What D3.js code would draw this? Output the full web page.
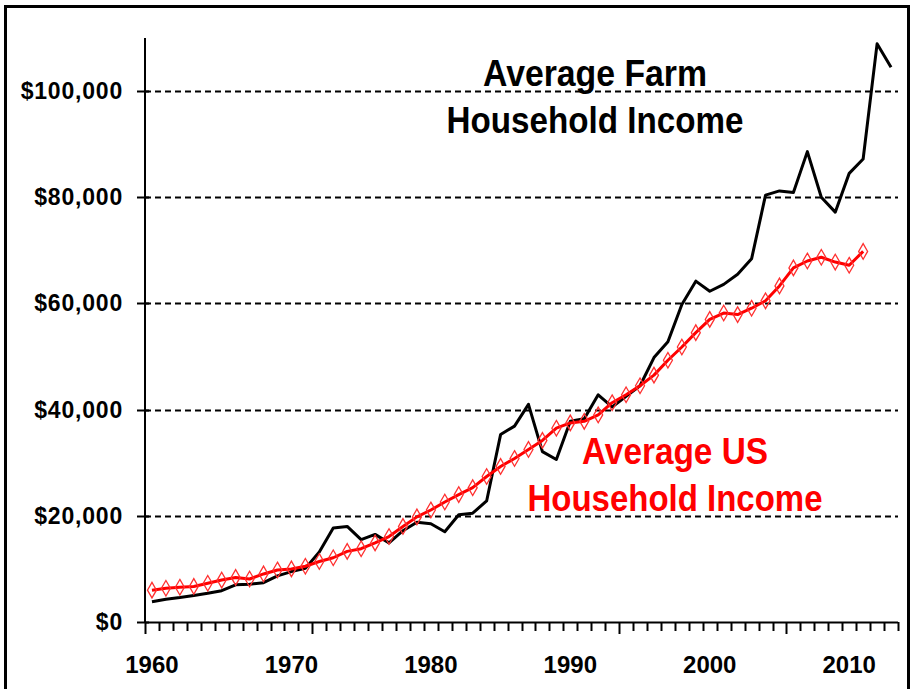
<!DOCTYPE html>
<html>
<head>
<meta charset="utf-8">
<script src="https://cdn.jsdelivr.net/npm/d3@7"></script>
<style>
  body { margin: 0; background: #fff; }
  text { font-family: Arial, 'Liberation Sans', sans-serif; font-weight: bold; }
</style>
</head>
<body>
<svg id="chart" width="912" height="689"></svg>
<script>
//////////////////////////////////////////////////////////////////////////////////////////
// Data
//////////////////////////////////////////////////////////////////////////////////////////
var years = d3.range(1960, 2014)

var farm_income = [
  3800, 4300, 4600, 5000, 5400, 5900, 7000, 7100, 7400, 8700,
  9500, 10100, 13200, 17700, 18000, 15500, 16500, 14900, 17200, 18800,
  18500, 17000, 20200, 20500, 22800, 35300, 36900, 41000, 32100, 30600,
  37800, 38300, 42800, 40500, 42500, 44500, 49800, 52800, 59800, 64200,
  62300, 63600, 65500, 68400, 80400, 81200, 80900, 88600, 80000, 77200,
  84500, 87200, 108900, 104500
]

var us_income = [
  6000, 6350, 6550, 6700, 7300, 7900, 8400, 8100, 9050, 9800,
  10000, 10500, 11400, 12100, 13300, 13800, 14900, 16100, 18000, 19800,
  21100, 22600, 24000, 25300, 27400, 29300, 30800, 32500, 34200, 36500,
  37500, 37800, 39000, 41300, 42800, 44500, 46500, 49300, 51800, 54500,
  57000, 58200, 57900, 59100, 60500, 63300, 66700, 68000, 68700, 67800,
  67200, 69800
]

var y_ticks = [0, 20000, 40000, 60000, 80000, 100000]
var x_labels = [1960, 1970, 1980, 1990, 2000, 2010]
var long_ticks = [1960, 1972, 1994, 2006]

var farm_title = ['Average Farm', 'Household Income']
var us_title = ['Average US', 'Household Income']

//////////////////////////////////////////////////////////////////////////////////////////
// Layout
//////////////////////////////////////////////////////////////////////////////////////////
var svg = d3.select('#chart')

var x = d3.scaleBand()
  .domain(years)
  .range([145, 898])
  .padding(0)

var y = d3.scaleLinear()
  .domain([0, 110000])
  .range([622, 38])

function cx(year) { return x(year) + x.bandwidth() / 2 }

draw_frame()
draw_grid()
draw_axes()
draw_lines()
draw_titles()

//////////////////////////////////////////////////////////////////////////////////////////
// Frame and grid
//////////////////////////////////////////////////////////////////////////////////////////
function draw_frame() {
  svg.append('rect')
    .attr('x', 5.5)
    .attr('y', 6.5)
    .attr('width', 903)
    .attr('height', 700)
    .attr('fill', 'none')
    .attr('stroke', '#000')
    .attr('stroke-width', 3)
}

function draw_grid() {
  svg.append('g')
    .selectAll('line')
    .data(y_ticks.filter(function(d) { return d > 0 }))
    .enter()
    .append('line')
    .attr('x1', 145)
    .attr('x2', 898)
    .attr('y1', function(d) { return Math.round(y(d)) + 0.5 })
    .attr('y2', function(d) { return Math.round(y(d)) + 0.5 })
    .attr('stroke', '#000')
    .attr('stroke-width', 2)
    .attr('stroke-dasharray', '6,4')
}

//////////////////////////////////////////////////////////////////////////////////////////
// Axes
//////////////////////////////////////////////////////////////////////////////////////////
function draw_axes() {
  var g = svg.append('g')

  // y axis
  g.append('line')
    .attr('x1', 145).attr('x2', 145)
    .attr('y1', y.range()[1]).attr('y2', 622)
    .attr('stroke', '#000')
    .attr('stroke-width', 2)

  g.selectAll('.y-tick')
    .data(y_ticks)
    .enter()
    .append('line')
    .attr('class', 'y-tick')
    .attr('x1', 137).attr('x2', 149)
    .attr('y1', function(d) { return Math.round(y(d)) + 0.5 })
    .attr('y2', function(d) { return Math.round(y(d)) + 0.5 })
    .attr('stroke', '#000')
    .attr('stroke-width', 2)

  g.selectAll('.y-label')
    .data(y_ticks)
    .enter()
    .append('text')
    .attr('class', 'y-label')
    .attr('x', 123)
    .attr('y', function(d) { return y(d) + 8 })
    .attr('text-anchor', 'end')
    .attr('font-size', 23)
    .attr('letter-spacing', 0.8)
    .text(function(d) { return '$' + d3.format(',')(d) })

  // x axis
  g.append('line')
    .attr('x1', 145).attr('x2', 898)
    .attr('y1', 622.5).attr('y2', 622.5)
    .attr('stroke', '#000')
    .attr('stroke-width', 2)

  var edges = years.map(function(d) { return x(d) }).concat([x.range()[1]])

  g.selectAll('.x-tick')
    .data(edges)
    .enter()
    .append('line')
    .attr('class', 'x-tick')
    .attr('x1', function(d) { return Math.round(d) + 0.5 })
    .attr('x2', function(d) { return Math.round(d) + 0.5 })
    .attr('y1', 622)
    .attr('y2', function(d, i) {
      return long_ticks.indexOf(1960 + i) >= 0 ? 634 : 631
    })
    .attr('stroke', '#000')
    .attr('stroke-width', 2)

  g.selectAll('.x-label')
    .data(x_labels)
    .enter()
    .append('text')
    .attr('class', 'x-label')
    .attr('x', function(d) { return cx(d) })
    .attr('y', 673)
    .attr('text-anchor', 'middle')
    .attr('font-size', 24)
    .text(function(d) { return d })
}

//////////////////////////////////////////////////////////////////////////////////////////
// Series
//////////////////////////////////////////////////////////////////////////////////////////
function draw_lines() {
  var line = d3.line()
    .x(function(d) { return cx(d[0]) })
    .y(function(d) { return y(d[1]) })

  var farm = d3.zip(years, farm_income)
  var us = d3.zip(years.slice(0, us_income.length), us_income)

  svg.append('path')
    .datum(farm)
    .attr('d', line)
    .attr('fill', 'none')
    .attr('stroke', '#000')
    .attr('stroke-width', 3)
    .attr('stroke-linejoin', 'round')

  svg.append('path')
    .datum(us)
    .attr('d', line)
    .attr('fill', 'none')
    .attr('stroke', '#ff0000')
    .attr('stroke-width', 3)
    .attr('stroke-linejoin', 'round')

  svg.append('g')
    .selectAll('path')
    .data(us)
    .enter()
    .append('path')
    .attr('d', d3.symbol().type(d3.symbolDiamond).size(70))
    .attr('transform', function(d) { return 'translate(' + cx(d[0]) + ',' + y(d[1]) + ')' })
    .attr('fill', 'none')
    .attr('stroke', '#ff3030')
    .attr('stroke-width', 1.3)
}

//////////////////////////////////////////////////////////////////////////////////////////
// Titles
//////////////////////////////////////////////////////////////////////////////////////////
function draw_titles() {
  write_title(farm_title, 595, [86, 133], [224, 297], '#000')
  write_title(us_title, 675, [464, 511], [186, 295], '#ff0000')

  function write_title(lines, x_mid, ys, widths, color) {
    svg.append('g')
      .selectAll('text')
      .data(lines)
      .enter()
      .append('text')
      .attr('x', x_mid)
      .attr('y', function(d, i) { return ys[i] })
      .attr('text-anchor', 'middle')
      .attr('font-size', 36)
      .attr('textLength', function(d, i) { return widths[i] })
      .attr('lengthAdjust', 'spacingAndGlyphs')
      .attr('fill', color)
      .text(function(d) { return d })
  }
}
</script>
</body>
</html>
